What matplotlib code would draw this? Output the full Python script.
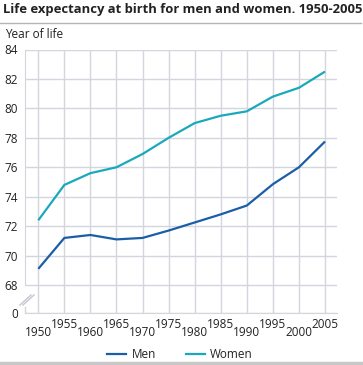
import matplotlib.pyplot as plt
from matplotlib.lines import Line2D

# данные
years = [1950, 1955, 1960, 1965, 1970, 1975, 1980, 1985, 1990, 1995, 2000, 2005]
men = [69.1, 71.2, 71.4, 71.1, 71.2, 71.7, 72.25, 72.8, 73.4, 74.85, 76.0, 77.75]
women = [72.4, 74.8, 75.6, 76.0, 76.9, 78.0, 79.0, 79.5, 79.8, 80.8, 81.4, 82.5]
y_ticks = [68, 70, 72, 74, 76, 78, 80, 82, 84]
zero_pos = 66.1  # место для "0" под разрывом оси

plt.rcParams['font.family'] = ['Open Sans', 'DejaVu Sans']
grid_col = '#d3d6dd'
txt_col = '#222222'

fig = plt.figure(figsize=(3.63, 3.65), dpi=100)
ax = fig.add_axes([25 / 363, 1 - 313 / 365, 312 / 363, (313 - 49.5) / 365])

ax.plot(years, men, color='#1b5ea6', lw=1.6, solid_capstyle='butt', zorder=3)
ax.plot(years, women, color='#1aa9bb', lw=1.6, solid_capstyle='butt', zorder=3)

ax.set_xlim(1947.45, 2007.3)
ax.set_ylim(zero_pos, 84)

ax.set_yticks([zero_pos] + y_ticks, ['0'] + [str(v) for v in y_ticks])
ax.set_xticks(years[::2], [str(v) for v in years[::2]])
ax.set_xticks(years[1::2], [str(v) for v in years[1::2]], minor=True)

ax.grid(True, which='both', color=grid_col, lw=1)
ax.set_axisbelow(True)
ax.tick_params(axis='both', which='both', length=0, labelsize=8.5, colors=txt_col)
ax.tick_params(axis='y', pad=5)
ax.tick_params(axis='x', which='major', pad=9.5)
ax.tick_params(axis='x', which='minor', pad=3.5)

for s in ['top', 'right']:
    ax.spines[s].set_visible(False)
ax.spines['bottom'].set_color(grid_col)
ax.spines['left'].set_color(grid_col)
ax.spines['left'].set_bounds(68, 84)
ax.plot([1947.45, 1947.45], [zero_pos, zero_pos + 0.4], color=grid_col, lw=1, clip_on=False)

# значок разрыва оси
for dx in [0, 3]:
    fig.add_artist(Line2D([(20 + dx) / 363, (31 + dx) / 363], [1 - 305 / 365, 1 - 295 / 365],
                          color='#c4c7ce', lw=1))

fig.text(3 / 363, 1 - 10 / 365, 'Life expectancy at birth for men and women. 1950-2005',
         fontsize=9.35, fontweight='bold', color=txt_col, va='center', ha='left')
fig.add_artist(Line2D([0, 361 / 363], [1 - 22.5 / 365] * 2, color='#b4b4b4', lw=1))
fig.text(5 / 363, 1 - 34 / 365, 'Year of life', fontsize=8.5, color=txt_col, va='center', ha='left')

# легенда
fig.add_artist(Line2D([107 / 363, 126 / 363], [1 - 354 / 365] * 2, color='#1b5ea6', lw=1.6))
fig.text(132 / 363, 1 - 354 / 365, 'Men', fontsize=8.5, color=txt_col, va='center')
fig.add_artist(Line2D([186 / 363, 205 / 363], [1 - 354 / 365] * 2, color='#1aa9bb', lw=1.6))
fig.text(210 / 363, 1 - 354 / 365, 'Women', fontsize=8.5, color=txt_col, va='center')
fig.add_artist(Line2D([0, 361 / 363], [1 - 363 / 365] * 2, color='#c8c8c8', lw=2.5))

fig.savefig('out.png', dpi=100)
